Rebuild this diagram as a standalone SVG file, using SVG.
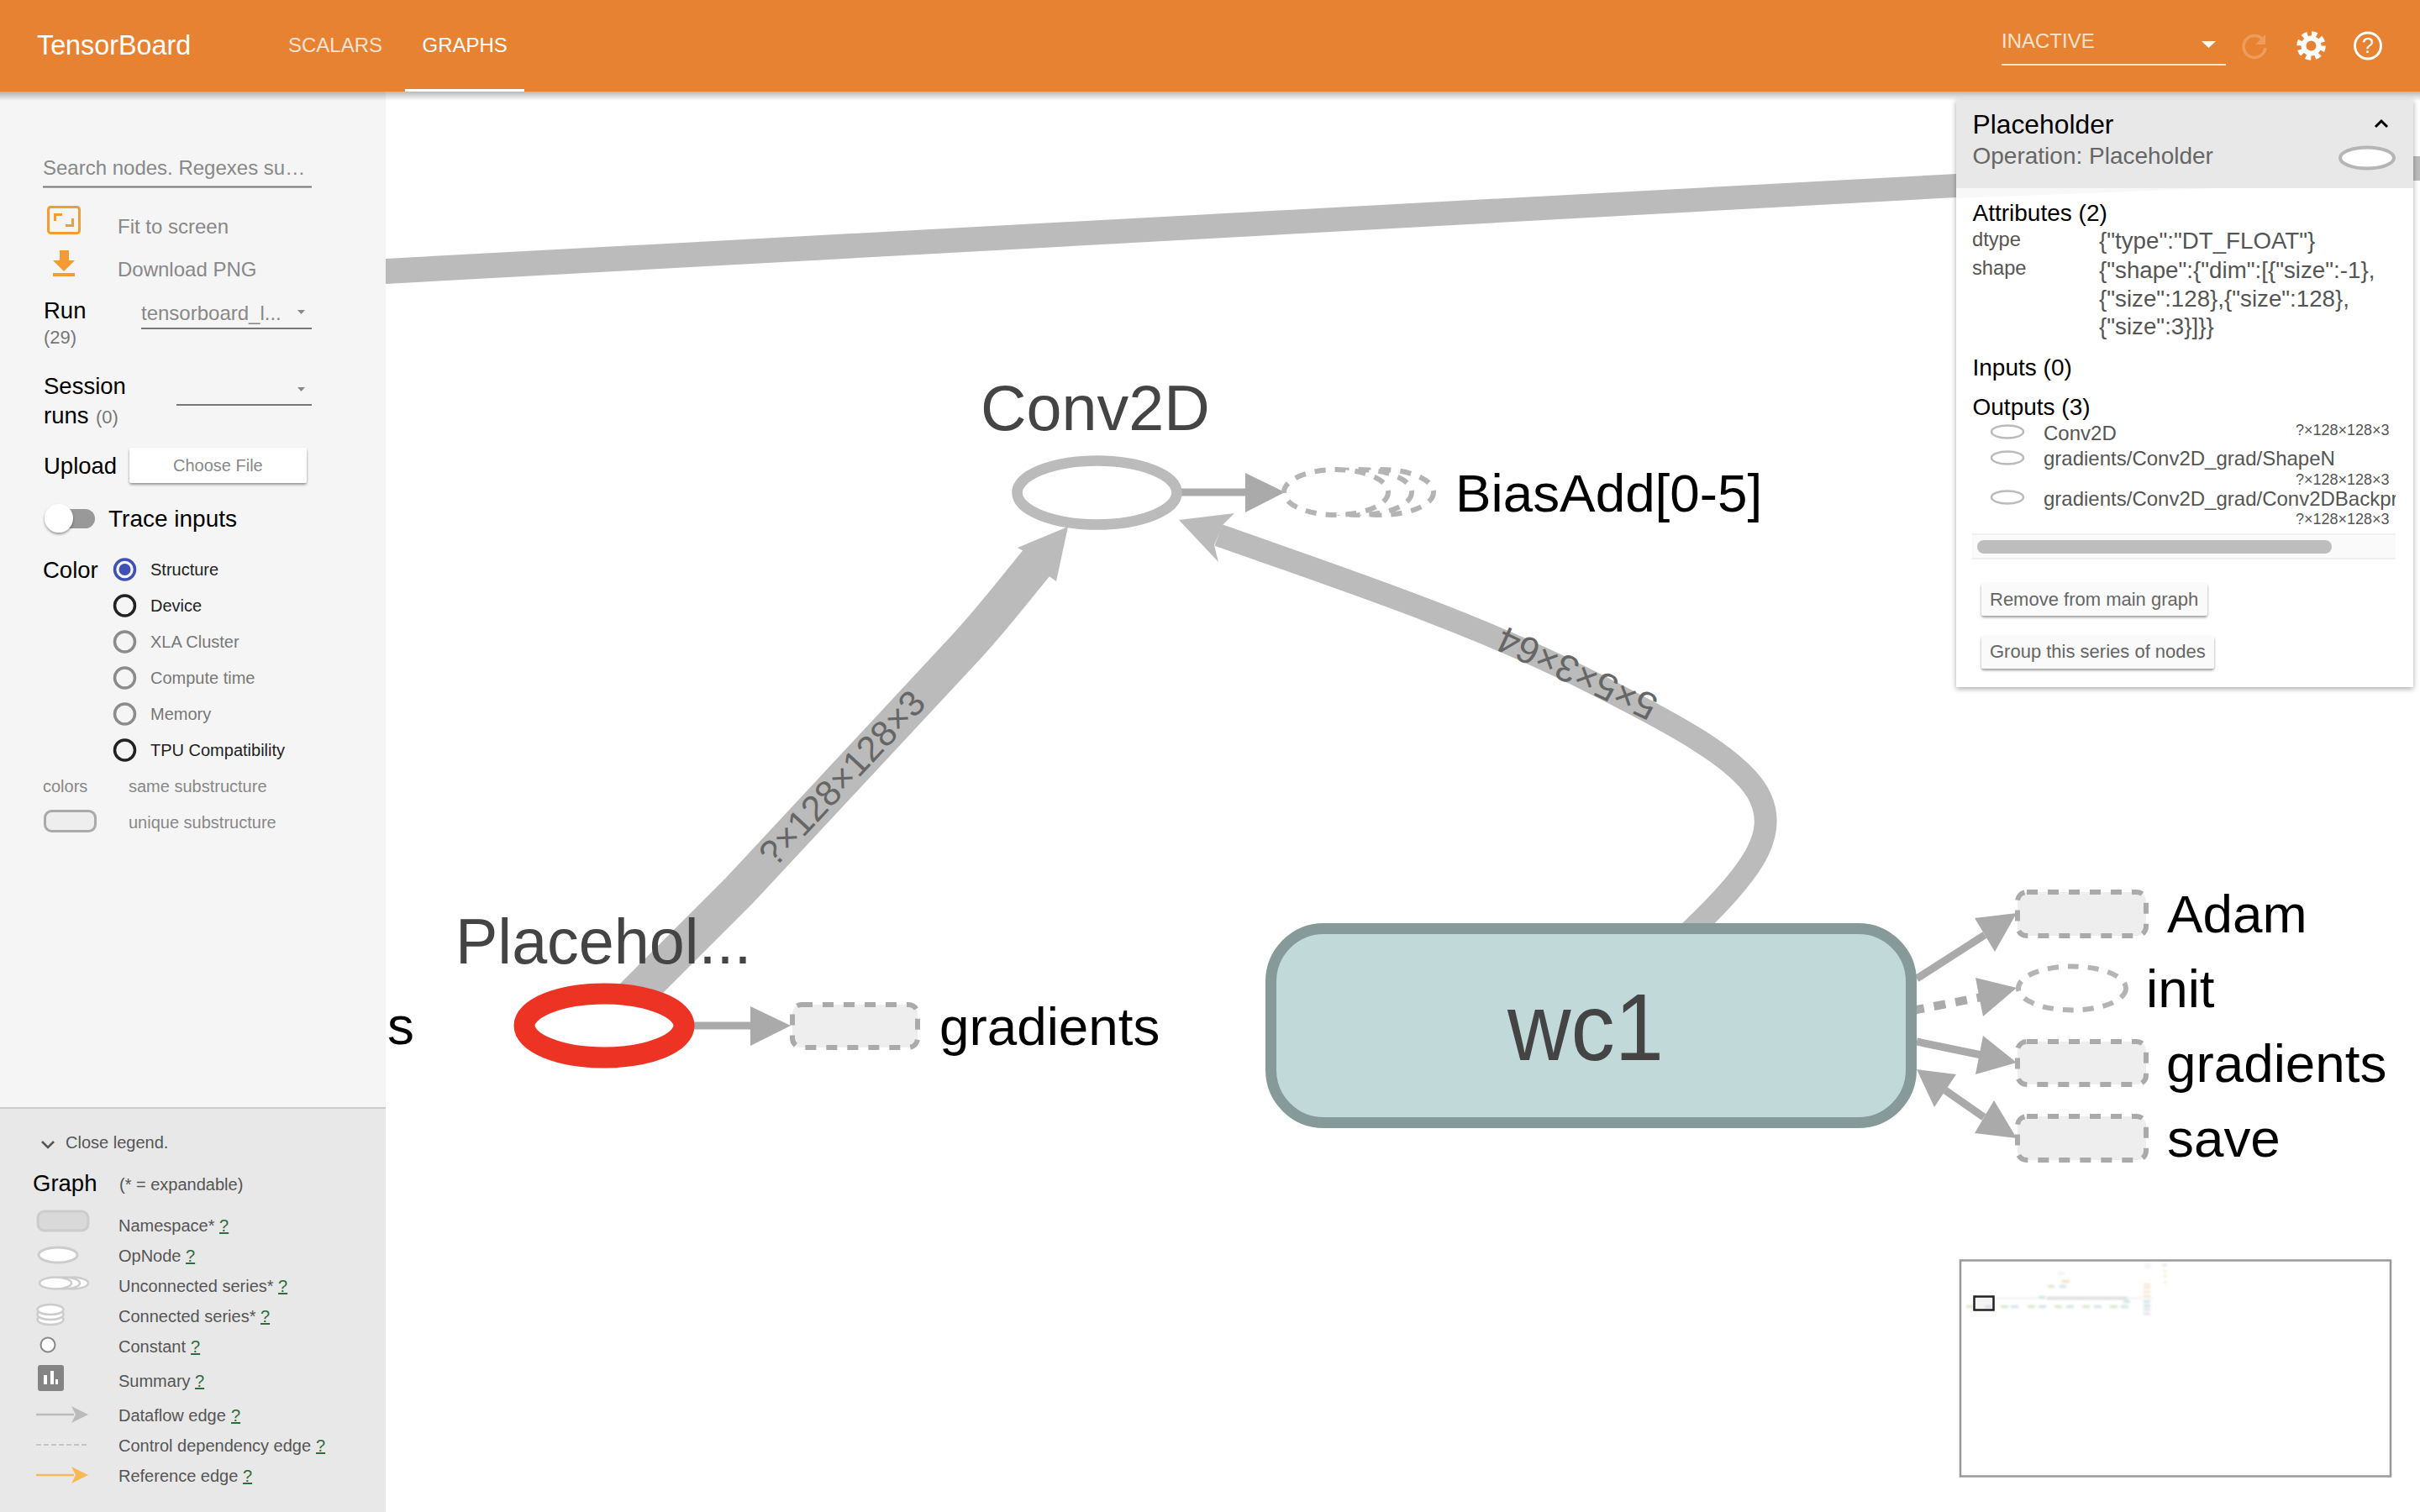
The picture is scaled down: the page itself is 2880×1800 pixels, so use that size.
<svg xmlns="http://www.w3.org/2000/svg" width="2880" height="1800" viewBox="0 0 2880 1800">
<style>
text{font-family:"Liberation Sans",Arial,sans-serif}
.edge{fill:none;stroke:#bbb}
.thin{fill:none;stroke:#aaa;stroke-width:9}
.dashthin{fill:none;stroke:#aaa;stroke-width:10;stroke-dasharray:14 12}
.head{fill:#aaa}
.bighead{fill:#bbb}
.meta{fill:#fff;stroke:#b4b4b4;stroke-width:6;stroke-dasharray:13 11}
.ns{fill:#eee;stroke:#aaa;stroke-width:6;stroke-dasharray:13 12}
.black{fill:#000;font-size:63.8px}
.dark{fill:#444;font-size:75.5px}
.elabel{fill:#666;font-size:43px;text-anchor:middle}
.side24{font-size:24px;fill:#888}
.lab{font-size:27.5px;fill:#000}
.cnt{font-size:22px;fill:#777}
.under{fill:#777}
.arrowd{fill:#888}
.radio{fill:none;stroke-width:3.5}
.rd{stroke:#222}
.rg{stroke:#8c8c8c}
.r20d{font-size:20px;fill:#222}
.r20g{font-size:20px;fill:#777}
.s20{font-size:20px;fill:#888}
.leg{font-size:20px;fill:#555}
.q{font-size:20px;fill:#2f6b3c;text-decoration:underline}
.lneb{fill:#fff;stroke:#ccc;stroke-width:2.5}
.pan28{font-size:28px;fill:#000}
.attr{font-size:23.7px;fill:#555}
.val{font-size:27.7px;fill:#555}
.out{font-size:24px;fill:#555}
.dim{font-size:18px;fill:#555}
.oe{fill:#fff;stroke:#bbb;stroke-width:2.5}
.btn{fill:#fafafa;filter:url(#sh)}
.btnt{font-size:22px;fill:#666}
.mm{fill:#000;opacity:.22}
</style>
<defs>
<linearGradient id="hs" x1="0" y1="0" x2="0" y2="1"><stop offset="0" stop-color="#000" stop-opacity=".28"/><stop offset="1" stop-color="#000" stop-opacity="0"/></linearGradient>
<filter id="sh" x="-10%" y="-20%" width="120%" height="150%"><feDropShadow dx="0" dy="2" stdDeviation="1.5" flood-color="#000" flood-opacity=".4"/></filter>
<filter id="psh" x="-3%" y="-3%" width="106%" height="106%"><feDropShadow dx="0" dy="2" stdDeviation="3" flood-color="#000" flood-opacity=".35"/></filter>
<filter id="bl" x="-20%" y="-20%" width="140%" height="140%"><feGaussianBlur stdDeviation="1.5"/></filter>
<clipPath id="outclip"><rect x="2347" y="570" width="504" height="50"/></clipPath>
</defs>
<rect width="2880" height="1800" fill="#fff"/>

<g id="connectors">
<polygon class="bighead" points="459,308 2328,207 2328,235 459,338"/>
<path class="edge" stroke-width="44" d="M745,1195 L880,1060 L1150,770 C1185,732 1215,692 1242,660"/>
<polygon class="bighead" points="1271,627 1211,652 1225,660 1240,680 1257,692"/>
<path class="edge" stroke-width="27" d="M1450,637 C1600,690 1750,740 1880,805 C1990,860 2075,905 2095,950 C2113,990 2095,1030 2010,1110"/>
<polygon class="bighead" points="1403,619 1469,611 1455,625 1445,649 1450,669"/>
<line class="thin" x1="1400" y1="586" x2="1490" y2="586"/>
<polygon class="head" points="1529,586 1482,563 1482,610"/>
<line class="thin" x1="820" y1="1221" x2="900" y2="1221"/>
<polygon class="head" points="941,1221 893,1198 893,1245"/>
<line class="thin" x1="2281" y1="1165" x2="2362" y2="1113"/>
<polygon class="head" points="2400,1087 2350,1093 2374,1133"/>
<line class="dashthin" x1="2276" y1="1203" x2="2358" y2="1187"/>
<polygon class="head" points="2400,1176 2351,1164 2360,1210"/>
<line class="thin" x1="2281" y1="1240" x2="2358" y2="1256"/>
<polygon class="head" points="2400,1265 2360,1233 2351,1279"/>
<line class="thin" x1="2315" y1="1298" x2="2361" y2="1330"/>
<polygon class="head" points="2400,1355 2373,1310 2350,1349"/>
<polygon class="head" points="2281,1273 2328,1279 2302,1318"/>
<text class="elabel" transform="translate(1002,926) rotate(-47)" dy="15">?×128×128×3</text>
<text class="elabel" style="font-size:45px" transform="translate(1877,801) rotate(205)" dy="15">5×5×3×64</text>
</g>

<g id="node-conv2d">
<text class="dark" x="1167" y="512">Conv2D</text>
<ellipse cx="1305.5" cy="586.5" rx="95" ry="38" fill="#fff" stroke="#bbb" stroke-width="12.5"/>
</g>
<g id="node-biasadd">
<ellipse class="meta" cx="1644" cy="586" rx="62" ry="27"/>
<ellipse class="meta" cx="1618" cy="586" rx="62" ry="27"/>
<ellipse class="meta" cx="1590" cy="586" rx="62" ry="27"/>
<text class="black" x="1732" y="609">BiasAdd[0-5]</text>
</g>
<g id="node-s"><text class="black" x="461" y="1243">s</text></g>
<g id="node-placeholder">
<text class="dark" x="542" y="1147">Placehol...</text>
<ellipse cx="719" cy="1221" rx="95" ry="38" fill="#fff" stroke="#EC3324" stroke-width="25"/>
</g>
<g id="node-gradients-1">
<rect class="ns" x="943" y="1196" width="149" height="51" rx="11"/>
<text class="black" x="1118" y="1244">gradients</text>
</g>
<g id="node-wc1">
<rect x="1512.5" y="1105.5" width="762" height="231" rx="63" fill="#C2D9DA" stroke="#879A9A" stroke-width="13"/>
<text x="1794" y="1262" font-size="113" fill="#444" textLength="186" lengthAdjust="spacingAndGlyphs">wc1</text>
</g>
<g id="node-adam">
<rect class="ns" x="2401" y="1062" width="153" height="52" rx="11"/>
<text class="black" x="2579" y="1110">Adam</text>
</g>
<g id="node-init">
<ellipse class="meta" cx="2466" cy="1176.5" rx="64" ry="26"/>
<text class="black" x="2554" y="1199">init</text>
</g>
<g id="node-gradients-2">
<rect class="ns" x="2401" y="1240" width="153" height="51" rx="11"/>
<text class="black" x="2578" y="1288">gradients</text>
</g>
<g id="node-save">
<rect class="ns" x="2401" y="1329" width="153" height="52" rx="11"/>
<text class="black" x="2579" y="1377">save</text>
</g>

<g id="sidebar">
<rect x="0" y="109" width="459" height="1210" fill="#F5F5F5"/>
<text class="side24" x="51" y="208">Search nodes. Regexes su…</text>
<rect class="under" x="51" y="221.5" width="320" height="2"/>
<rect x="57.5" y="246.5" width="37" height="31" rx="3" fill="none" stroke="#F59B36" stroke-width="3"/>
<path d="M64,263V254H74V257H67V263ZM88,260V270H78V267H85V260Z" fill="#F59B36"/>
<path d="M71,298H82V310H89L76,323 63,310H71ZM63,325H89V329H63Z" fill="#F59B36"/>
<text class="side24" x="140" y="278">Fit to screen</text>
<text class="side24" x="140" y="329">Download PNG</text>
<text class="lab" x="52" y="379">Run</text>
<text class="cnt" x="52" y="409">(29)</text>
<text class="side24" x="168" y="381">tensorboard_l...</text>
<polygon class="arrowd" points="354,369 363,369 358.5,374"/>
<rect class="under" x="168" y="390" width="203" height="2"/>
<text class="lab" x="52" y="469">Session</text>
<text class="lab" x="52" y="504">runs</text>
<text class="cnt" x="114" y="504">(0)</text>
<polygon class="arrowd" points="354,461 363,461 358.5,466"/>
<rect class="under" x="210" y="481" width="161" height="2"/>
<text class="lab" x="52" y="564">Upload</text>
<rect x="154" y="533" width="211" height="42" rx="3" fill="#fff" filter="url(#sh)"/>
<text x="206" y="561" font-size="20" fill="#888">Choose File</text>
<rect x="60" y="606" width="53" height="23" rx="11.5" fill="#999"/>
<circle cx="70" cy="617" r="17" fill="#fff" filter="url(#sh)"/>
<text x="129" y="627" font-size="28" fill="#000">Trace inputs</text>
<text class="lab" x="51" y="688">Color</text>
<circle class="radio" cx="148.5" cy="678" r="12" stroke="#3F51B5"/><circle cx="148.5" cy="678" r="7" fill="#3F51B5"/>
<circle class="radio rd" cx="148.5" cy="721" r="12"/>
<circle class="radio rg" cx="148.5" cy="764" r="12"/>
<circle class="radio rg" cx="148.5" cy="807" r="12"/>
<circle class="radio rg" cx="148.5" cy="850" r="12"/>
<circle class="radio rd" cx="148.5" cy="893" r="12"/>
<text class="r20d" x="179" y="685">Structure</text>
<text class="r20d" x="179" y="728">Device</text>
<text class="r20g" x="179" y="771">XLA Cluster</text>
<text class="r20g" x="179" y="814">Compute time</text>
<text class="r20g" x="179" y="857">Memory</text>
<text class="r20d" x="179" y="900">TPU Compatibility</text>
<text class="s20" x="51" y="943">colors</text>
<text class="s20" x="153" y="943">same substructure</text>
<rect x="53.5" y="965.5" width="60" height="24" rx="8" fill="#eee" stroke="#aaa" stroke-width="3"/>
<text class="s20" x="153" y="986">unique substructure</text>
</g>

<g id="legend">
<rect x="0" y="1318" width="459" height="482" fill="#E8E8E8"/>
<rect x="0" y="1318" width="459" height="2" fill="#ccc"/>
<path d="M50,1359 L57,1366 64,1359" fill="none" stroke="#555" stroke-width="2.5"/>
<text class="leg" x="78" y="1367">Close legend.</text>
<text class="lab" x="39" y="1418">Graph</text>
<text class="leg" x="142" y="1417">(* = expandable)</text>
<rect x="45" y="1442" width="60" height="23" rx="8" fill="#d9d9d9" stroke="#ccc" stroke-width="3"/>
<text class="leg" x="141" y="1466">Namespace*</text><text class="q" x="261" y="1466">?</text>
<ellipse cx="69" cy="1494" rx="23" ry="9" fill="#fff" stroke="#ccc" stroke-width="3"/>
<text class="leg" x="141" y="1502">OpNode</text><text class="q" x="221" y="1502">?</text>
<ellipse class="lneb" cx="86" cy="1527.5" rx="19" ry="7"/><ellipse class="lneb" cx="76" cy="1527.5" rx="19" ry="7"/><ellipse class="lneb" cx="66" cy="1527.5" rx="19" ry="7"/>
<text class="leg" x="141" y="1538">Unconnected series*</text><text class="q" x="331" y="1538">?</text>
<ellipse class="lneb" cx="60" cy="1571" rx="15.5" ry="6"/><ellipse class="lneb" cx="60" cy="1565" rx="15.5" ry="6"/><ellipse class="lneb" cx="60" cy="1559" rx="15.5" ry="6"/>
<text class="leg" x="141" y="1574">Connected series*</text><text class="q" x="310" y="1574">?</text>
<circle cx="57" cy="1601" r="8.5" fill="#fff" stroke="#888" stroke-width="2"/>
<text class="leg" x="141" y="1610">Constant</text><text class="q" x="227" y="1610">?</text>
<rect x="45" y="1625" width="31" height="31" rx="3" fill="#848484"/>
<path d="M52,1637h4v11h-4zM60,1632h4v16h-4zM66,1642h3v6h-3z" fill="#fff"/>
<text class="leg" x="141" y="1651">Summary</text><text class="q" x="232" y="1651">?</text>
<line x1="43" y1="1684" x2="88" y2="1684" stroke="#bbb" stroke-width="2.5"/>
<polygon points="105,1684 85,1674 90,1684 85,1694" fill="#bbb"/>
<text class="leg" x="141" y="1692">Dataflow edge</text><text class="q" x="275" y="1692">?</text>
<line x1="43" y1="1720" x2="105" y2="1720" stroke="#c4c4c4" stroke-width="2" stroke-dasharray="6 3"/>
<text class="leg" x="141" y="1728">Control dependency edge</text><text class="q" x="376" y="1728">?</text>
<line x1="43" y1="1756" x2="88" y2="1756" stroke="#F9B858" stroke-width="2.5"/>
<polygon points="105,1756 85,1746 90,1756 85,1766" fill="#F9B858"/>
<text class="leg" x="141" y="1764">Reference edge</text><text class="q" x="289" y="1764">?</text>
</g>

<g id="header">
<rect x="0" y="109" width="2880" height="11" fill="url(#hs)"/>
<rect x="0" y="0" width="2880" height="109" fill="#E78232"/>
<text x="44" y="65" font-size="32.3" fill="#fff">TensorBoard</text>
<text x="343" y="62" font-size="24" fill="#FBE3CF">SCALARS</text>
<text x="502.5" y="62" font-size="24" fill="#fff">GRAPHS</text>
<rect x="482" y="106" width="142" height="3" fill="#fff"/>
<text x="2382" y="57" font-size="24" fill="#FBE3CF">INACTIVE</text>
<rect x="2382" y="76" width="267" height="2" fill="#FBE3CF"/>
<polygon points="2620,49 2637,49 2628.5,57" fill="#fff"/>
<path d="M2693,47 A13,13 0 1 0 2696,57" fill="none" stroke="#EE9C5C" stroke-width="3.5"/>
<polygon points="2696,41 2696,53 2684,53" fill="#EE9C5C"/>
<circle cx="2750.5" cy="54.5" r="14" fill="none" stroke="#fff" stroke-width="6.5" stroke-dasharray="6.2 4.8"/>
<circle cx="2750.5" cy="54.5" r="9" fill="none" stroke="#fff" stroke-width="6"/>
<circle cx="2818" cy="54.5" r="15.5" fill="none" stroke="#fff" stroke-width="3"/>
<text x="2818" y="63" font-size="25" fill="#fff" text-anchor="middle">?</text>
</g>

<g id="info-panel">
<rect x="2872" y="186" width="8" height="29" fill="#bbb"/>
<rect x="2328" y="119" width="544" height="699" fill="#fff" filter="url(#psh)"/>
<polygon points="2328,224 2640,224 2328,236" fill="#f8f8f8"/>
<rect x="2328" y="119" width="544" height="105" fill="#E8E8E8"/>
<text x="2347.5" y="159" font-size="31.8" fill="#000">Placeholder</text>
<path d="M2827,151 L2834,144 2841,151" fill="none" stroke="#000" stroke-width="3"/>
<text x="2347.5" y="195" font-size="28" fill="#666">Operation: Placeholder</text>
<ellipse cx="2817" cy="188" rx="32" ry="12.5" fill="#fff" stroke="#b5b5b5" stroke-width="4"/>
<text class="pan28" x="2347.5" y="263">Attributes (2)</text>
<text class="attr" x="2347" y="293">dtype</text>
<text class="attr" x="2347" y="327">shape</text>
<text class="val" x="2498" y="296">{"type":"DT_FLOAT"}</text>
<text class="val" x="2498" y="331">{"shape":{"dim":[{"size":-1},</text>
<text class="val" x="2498" y="365">{"size":128},{"size":128},</text>
<text class="val" x="2498" y="398">{"size":3}]}}</text>
<text class="pan28" x="2347.5" y="447">Inputs (0)</text>
<text class="pan28" x="2347.5" y="494">Outputs (3)</text>
<ellipse class="oe" cx="2389" cy="514" rx="19" ry="7.5"/>
<text class="out" x="2432" y="524">Conv2D</text>
<text class="dim" x="2732" y="518">?×128×128×3</text>
<ellipse class="oe" cx="2389" cy="545" rx="19" ry="7.5"/>
<text class="out" x="2432" y="554">gradients/Conv2D_grad/ShapeN</text>
<text class="dim" x="2732" y="577">?×128×128×3</text>
<ellipse class="oe" cx="2389" cy="592" rx="19" ry="7.5"/>
<text class="out" x="2432" y="602" clip-path="url(#outclip)">gradients/Conv2D_grad/Conv2DBackpr</text>
<text class="dim" x="2732" y="624">?×128×128×3</text>
<rect x="2347" y="636" width="504" height="29" fill="#fafafa"/>
<rect x="2347" y="635" width="504" height="2" fill="#f0f0f0"/><rect x="2347" y="664" width="504" height="2" fill="#f0f0f0"/>
<rect x="2353" y="643" width="422" height="16" rx="8" fill="#bdbdbd"/>
<rect class="btn" x="2358" y="694" width="269" height="39" rx="3"/>
<text class="btnt" x="2368" y="721">Remove from main graph</text>
<rect class="btn" x="2358" y="757" width="277" height="39" rx="3"/>
<text class="btnt" x="2368" y="783">Group this series of nodes</text>
</g>

<g id="minimap">
<rect x="2333" y="1500.5" width="512" height="257" fill="#fff" stroke="#999" stroke-width="2.5"/>
<g filter="url(#bl)" opacity=".6">
<rect x="2349" y="1543" width="24" height="17" fill="#eee"/>
<rect class="mm" x="2373" y="1545" width="190" height="1"/>
<rect x="2436" y="1544" width="96" height="3" fill="#999" opacity=".6"/>
<g fill="#b8d49a">
<rect x="2340" y="1554" width="9" height="3"/><rect x="2381" y="1554" width="9" height="3"/><rect x="2413" y="1554" width="9" height="3"/><rect x="2445" y="1554" width="9" height="3"/><rect x="2478" y="1554" width="9" height="3"/><rect x="2511" y="1554" width="9" height="3"/><rect x="2437" y="1530" width="8" height="3"/>
</g>
<g fill="#a9cbd0">
<rect x="2362" y="1554" width="9" height="3"/><rect x="2393" y="1554" width="9" height="3"/><rect x="2426" y="1554" width="9" height="3"/><rect x="2459" y="1554" width="9" height="3"/><rect x="2492" y="1554" width="9" height="3"/><rect x="2524" y="1554" width="9" height="3"/><rect x="2451" y="1530" width="8" height="3"/><rect x="2426" y="1543" width="8" height="3"/><rect x="2527" y="1548" width="8" height="3"/><rect x="2551" y="1548" width="8" height="3"/><rect x="2551" y="1553" width="8" height="3"/>
</g>
<g fill="#eec48e">
<rect x="2454" y="1524" width="9" height="3"/><rect x="2551" y="1528" width="8" height="2"/><rect x="2551" y="1532" width="8" height="2"/><rect x="2551" y="1537" width="8" height="2"/><rect x="2551" y="1542" width="8" height="2"/>
</g>
<g fill="#b3b3d8"><rect x="2551" y="1558" width="8" height="2"/><rect x="2551" y="1563" width="8" height="2"/></g>
<circle cx="2556" cy="1507" r="4" fill="#eee"/>
<rect x="2449" y="1515" width="8" height="2" fill="#ddd"/>
<rect x="2573" y="1505" width="6" height="2" fill="#ccc"/><rect x="2575" y="1512" width="3" height="3" fill="#d8e8b0"/><rect x="2575" y="1518" width="3" height="3" fill="#d8e8b0"/><rect x="2575" y="1525" width="3" height="3" fill="#d8e8b0"/>
</g>
<rect x="2349.5" y="1543.5" width="23" height="16" fill="none" stroke="#222" stroke-width="2.5"/>
</g>
</svg>
